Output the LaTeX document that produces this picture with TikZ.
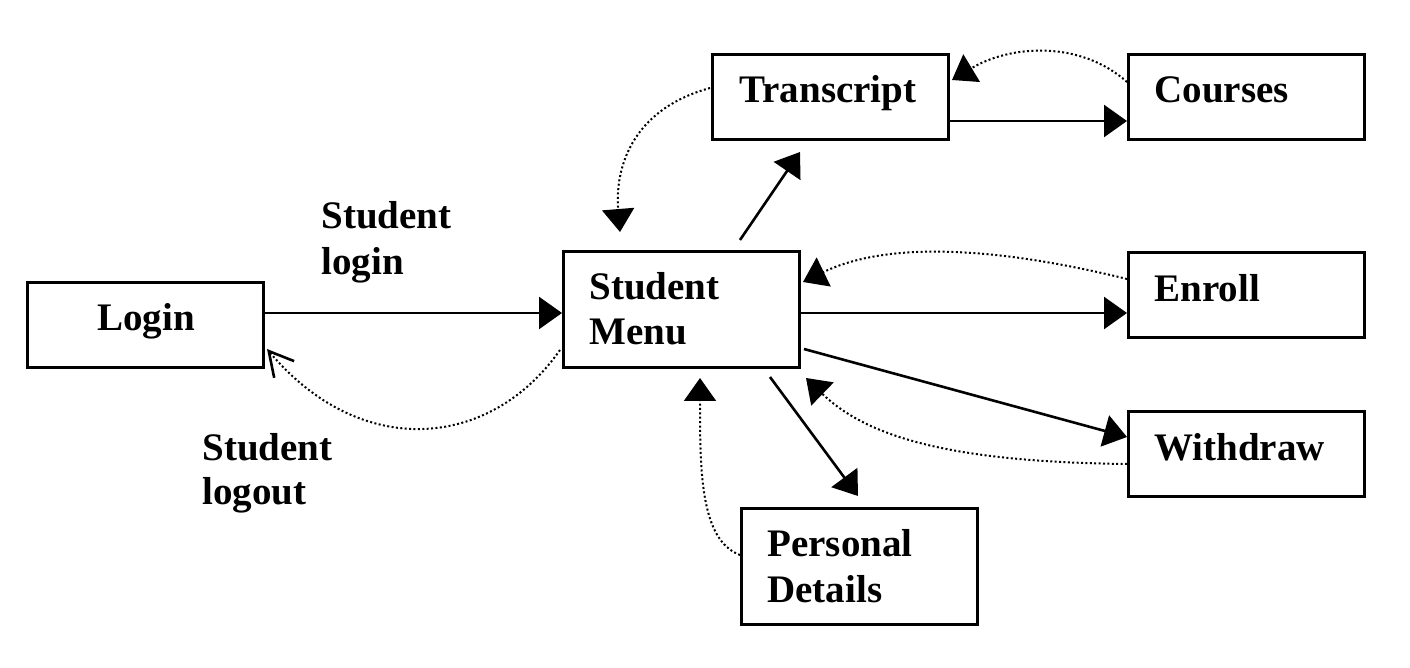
\documentclass[tikz,border=0pt]{standalone}
\usepackage{fontspec}
\setmainfont{Liberation Serif}
\usetikzlibrary{arrows.meta,calc}
\begin{document}
\begin{tikzpicture}[x=0.5pt,y=-0.5pt,
  box/.style={draw,line width=1.5pt,anchor=north west,minimum width=118pt,minimum height=42.5pt,inner sep=0pt},
  tallbox/.style={box,minimum height=58pt},
  txt/.style={anchor=base west,inner sep=0pt,font=\fontsize{19.5}{22.5}\selectfont\bfseries},
  solidarrow/.style={line width=1.3pt,-{Triangle[length=11.5pt,width=16pt]}},
  dotarrow/.style={line width=1pt,dash pattern=on 1pt off 1.2pt,-{Triangle[length=11.5pt,width=16pt]}},
  openarrow/.style={line width=1pt,dash pattern=on 1pt off 1.2pt,-{Straight Barb[length=12pt,width=13pt,line width=1.3pt]}}]
\useasboundingbox (0,0) rectangle (1410,668);
% boxes
\node[box] (login) at (26,281) {};
\node[tallbox] (menu) at (562,250) {};
\node[box] (transcript) at (711,53) {};
\node[box] (courses) at (1127,53) {};
\node[box] (enroll) at (1127,251) {};
\node[box] (withdraw) at (1127,410) {};
\node[tallbox] (personal) at (740,507) {};
% texts
\node[txt] (tlogin) at (97,331) {Login};
\node[txt] (tmenu1) at (589,300) {Student};
\node[txt] (tmenu2) at (589,345) {Menu};
\node[txt] (ttrans) at (739,103) {Transcript};
\node[txt] (tcourses) at (1154,103) {Courses};
\node[txt] (tenroll) at (1154,302) {Enroll};
\node[txt] (twith) at (1154,461) {Withdraw};
\node[txt] (tpers1) at (767,557) {Personal};
\node[txt] (tpers2) at (767,603) {Details};
\node[txt] (lin1) at (321,229) {Student};
\node[txt] (lin2) at (321,275) {login};
\node[txt] (lout1) at (202,460) {Student};
\node[txt] (lout2) at (202,505) {logout};
% solid arrows
\draw[solidarrow] ($(login.north east)+(0,32)$) -- ($(menu.north west)+(0,63)$);
\draw[solidarrow] ($(menu.north west)+(178,-10)$) -- ($(transcript.south west)+(89,11)$);
\draw[solidarrow] ($(transcript.south east)+(0,-20)$) -- ($(courses.south west)+(0,-20)$);
\draw[solidarrow] ($(menu.north east)+(0,63)$) -- ($(enroll.north west)+(0,62)$);
\draw[solidarrow] ($(menu.north east)+(3,99)$) -- ($(withdraw.north west)+(0,27)$);
\draw[solidarrow] ($(menu.south west)+(208,8)$) -- ($(personal.north west)+(118,-11)$);
% dotted arrows
\draw[dotarrow] ($(courses.north west)+(0,29)$) .. controls (1080,40) and (1010,45) .. ($(transcript.north east)+(2,27)$);
\draw[dotarrow] ($(transcript.north west)+(-1,35)$) .. controls (630,110) and (615,170) .. ($(menu.north west)+(58,-18)$);
\draw[dotarrow] ($(enroll.north west)+(0,28)$) .. controls (1030,255) and (900,235) .. ($(menu.north east)+(2,32)$);
\draw[dotarrow] ($(withdraw.north west)+(0,54)$) .. controls (960,462) and (870,440) .. ($(menu.south east)+(5,9)$);
\draw[dotarrow] ($(personal.north west)+(0,48)$) .. controls (700,540) and (700,470) .. ($(menu.south west)+(138,9)$);
\draw[openarrow] ($(menu.south west)+(-2,-19)$) .. controls (490,450) and (360,460) .. ($(login.south east)+(2,-20)$);
\end{tikzpicture}
\end{document}
